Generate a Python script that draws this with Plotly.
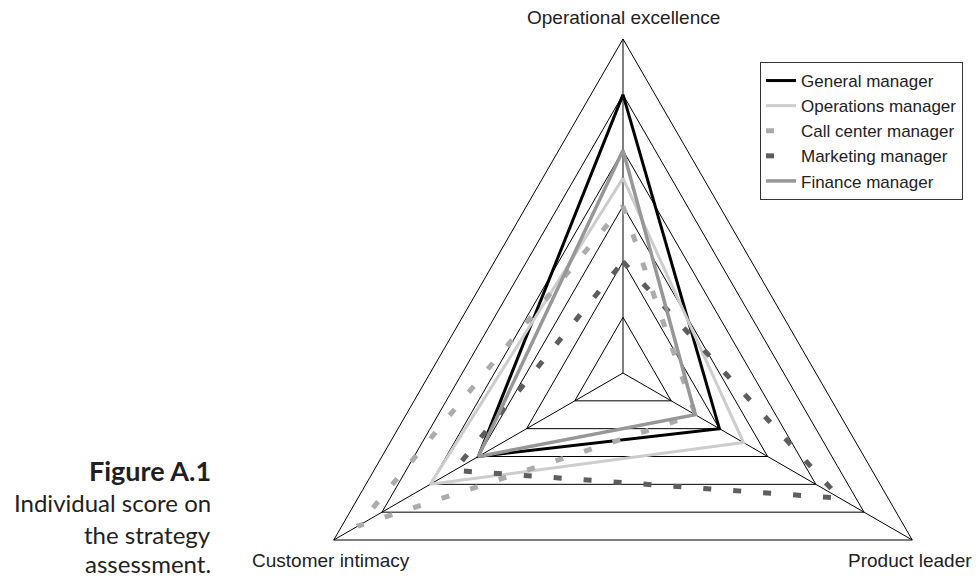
import numpy as np
import plotly.graph_objects as go

# axis categories, clockwise from the top
axes = ["Operational excellence", "Product leader", "Customer intimacy"]

managers = ["General manager", "Operations manager", "Call center manager",
            "Marketing manager", "Finance manager"]

# scores per manager, same order as axes
general = [5.0, 2.0, 3.0]
operations = [3.5, 2.5, 4.0]
call_center = [3.0, 1.5, 5.5]
marketing = [2.0, 4.5, 3.5]
finance = [4.0, 1.5, 3.0]

rings = [1, 2, 3, 4, 5, 6]

# page is offset by the 8px body margin of the html
W, H = 972, 569
cx_px, cy_px = 615, 365       # centre of the radar in figure pixels
R_px = 334                    # pixels for the outer ring
scale = R_px / max(rings)

# angle of each category (top, then clockwise)
ang = np.deg2rad([90 - 360 / len(axes) * i for i in range(len(axes))])


def to_xy(vals):
    v = np.array(list(vals) + [vals[0]], dtype=float)
    a = np.append(ang, ang[0])
    return v * np.cos(a), v * np.sin(a)


styles = [
    dict(color="#000000", width=3),
    dict(color="#cdcdcd", width=3),
    dict(color="#ababab", width=5, dash="8px,22px"),
    dict(color="#5e5e5e", width=5, dash="8px,22px"),
    dict(color="#979797", width=3.5),
]

fig = go.Figure()

# triangular grid + spokes
gx, gy = [], []
for r in rings:
    x, y = to_xy([r] * len(axes))
    gx += list(x) + [None]
    gy += list(y) + [None]
for a in ang:
    gx += [0, max(rings) * np.cos(a), None]
    gy += [0, max(rings) * np.sin(a), None]
fig.add_trace(go.Scatter(x=gx, y=gy, mode="lines", line=dict(color="black", width=1),
                         showlegend=False, hoverinfo="skip"))

for name, vals, st in zip(managers, [general, operations, call_center, marketing, finance], styles):
    x, y = to_xy(vals)
    fig.add_trace(go.Scatter(x=x, y=y, mode="lines", name=name, line=st))

fig.update_layout(
    width=W, height=H,
    margin=dict(l=0, r=0, t=0, b=0),
    paper_bgcolor="white", plot_bgcolor="white",
    xaxis=dict(visible=False, range=[-cx_px / scale, (W - cx_px) / scale]),
    yaxis=dict(visible=False, range=[-(H - cy_px) / scale, cy_px / scale]),
    legend=dict(x=752 / W, y=1 - 54 / H, xanchor="left", yanchor="top",
                bgcolor="white", bordercolor="#333333", borderwidth=1,
                font=dict(family="Liberation Sans, Arial", size=17, color="#222222")),
)

lab_font = dict(family="Liberation Sans, Arial", size=19, color="#222222")
top = max(rings)
fig.add_annotation(x=0, y=top, text=axes[0], showarrow=False, font=lab_font,
                   xanchor="center", yanchor="bottom", yshift=9)
fig.add_annotation(x=top * np.cos(ang[2]), y=top * np.sin(ang[2]), text=axes[2],
                   showarrow=False, font=lab_font, xanchor="center", yanchor="top",
                   yshift=-8, xshift=-3)
fig.add_annotation(x=top * np.cos(ang[1]), y=top * np.sin(ang[1]), text=axes[1],
                   showarrow=False, font=lab_font, xanchor="center", yanchor="top",
                   yshift=-8, xshift=-2)

# figure caption on the left
caption = ["<b>Figure A.1</b>", "Individual score on", "the strategy", "assessment."]
cap_y = [462, 494, 526, 555]
cap_size = [27, 24, 24, 24]
for txt, yy, sz in zip(caption, cap_y, cap_size):
    fig.add_annotation(x=205 / W, y=1 - yy / H, xref="paper", yref="paper", text=txt,
                       showarrow=False, xanchor="right", yanchor="middle",
                       font=dict(family="Lato, Noto Sans", size=sz, color="#231f20"))

fig.write_html("out.html")
